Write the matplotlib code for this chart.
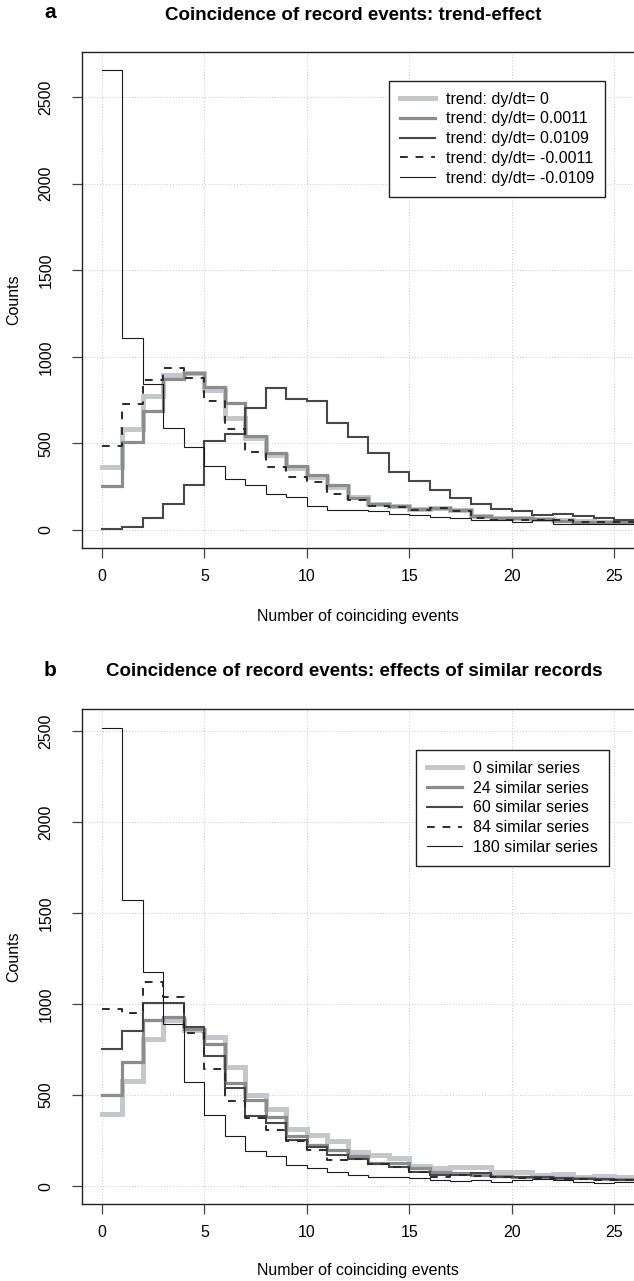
import numpy as np
import matplotlib
matplotlib.use("Agg")
import matplotlib.pyplot as plt

plt.rcParams['font.family'] = ['Liberation Sans', 'DejaVu Sans']

# number of coinciding events (bins)
n_events = list(range(27))

# panel a: trend effect
trend_labels = ["trend: dy/dt= 0", "trend: dy/dt= 0.0011", "trend: dy/dt= 0.0109",
                "trend: dy/dt= -0.0011", "trend: dy/dt= -0.0109"]
trend_0 = [361, 580, 775, 896, 906, 809, 645, 529, 433, 356, 305, 250, 188, 152, 140,
           122, 127, 116, 80, 69, 67, 62, 55, 49, 46, 45, 45]
trend_p0011 = [255, 510, 684, 871, 906, 823, 732, 543, 443, 369, 318, 262, 185, 150, 138,
               120, 125, 114, 80, 68, 66, 62, 54, 48, 45, 45, 45]
trend_p0109 = [4, 17, 66, 147, 257, 516, 553, 703, 819, 755, 742, 618, 537, 442, 335,
               280, 230, 185, 151, 118, 107, 88, 93, 80, 66, 58, 55]
trend_m0011 = [485, 728, 867, 935, 877, 742, 583, 452, 361, 307, 278, 210, 172, 140, 135,
               114, 124, 112, 70, 60, 58, 57, 55, 48, 46, 46, 46]
trend_m0109 = [2654, 1109, 844, 587, 477, 371, 294, 259, 205, 193, 138, 116, 117, 107, 93,
               85, 72, 71, 59, 58, 47, 56, 37, 35, 37, 37, 37]

# panel b: similar records
similar_labels = ["0 similar series", "24 similar series", "60 similar series",
                  "84 similar series", "180 similar series"]
sim_0 = [396, 580, 811, 912, 860, 820, 656, 500, 421, 311, 280, 249, 189, 170, 152,
         110, 97, 106, 103, 79, 75, 60, 66, 51, 55, 50, 50]
sim_24 = [500, 683, 912, 927, 866, 780, 568, 473, 380, 275, 225, 198, 167, 125, 125,
          97, 79, 73, 60, 55, 50, 48, 45, 42, 40, 38, 38]
sim_60 = [753, 853, 1004, 1004, 875, 716, 537, 385, 346, 253, 212, 170, 148, 119, 106,
          79, 60, 62, 70, 52, 48, 48, 42, 40, 38, 36, 36]
sim_84 = [971, 954, 1121, 1040, 843, 643, 469, 372, 308, 245, 198, 143, 148, 119, 106,
          79, 51, 60, 55, 50, 45, 45, 40, 38, 36, 35, 35]
sim_180 = [2520, 1571, 1178, 890, 573, 390, 275, 194, 167, 115, 97, 79, 60, 51, 51,
           42, 33, 30, 33, 24, 33, 38, 33, 24, 18, 24, 24]

# line styles shared by both panels (same order as legends)
styles = [
    dict(color='#c4c7cb', lw=3.6, ls='-'),
    dict(color='#8c8c8c', lw=2.3, ls='-'),
    dict(color='#474747', lw=1.5, ls='-'),
    dict(color='#2b2b2b', lw=1.4, ls=(0, (4, 4))),
    dict(color='#1a1a1a', lw=0.8, ls='-'),
]

W, H = 634, 1281
fig = plt.figure(figsize=(W / 100, H / 100), dpi=100)


def px_axes(left, top, right, bottom):
    return fig.add_axes([left / W, 1 - bottom / H, (right - left) / W, (bottom - top) / H])


def draw_panel(ax, series, labels, ymax, legend_anchor):
    for y, lab, st in zip(series, labels, styles):
        ax.plot(n_events, y, drawstyle='steps-post', label=lab, color=st['color'],
                lw=st['lw'], ls=st['ls'], solid_joinstyle='miter')
    pad = 0.04 * ymax
    ax.set_xlim(-1, 26)
    ax.set_ylim(-pad, ymax + pad)
    ax.set_xticks([0, 5, 10, 15, 20, 25])
    ax.set_yticks([0, 500, 1000, 1500, 2000, 2500])
    ax.grid(True, color='#c8c8c8', ls=(0, (1, 2)), lw=0.7)
    ax.set_axisbelow(True)
    for sp in ax.spines.values():
        sp.set_linewidth(1.0)
        sp.set_color('#222222')
    ax.tick_params(direction='out', length=7, width=0.9, color='#444444',
                   labelsize=11.5, pad=8)
    ax.tick_params(axis='y', labelrotation=90, pad=13)
    for lab in ax.get_yticklabels():
        lab.set_va('center')
    leg = ax.legend(loc='upper right', bbox_to_anchor=legend_anchor, borderaxespad=0,
                    fontsize=11.5, frameon=True, fancybox=False, edgecolor='#222222',
                    framealpha=1, handlelength=2.2, handletextpad=0.7,
                    labelspacing=0.3, borderpad=0.68)
    leg.get_frame().set_linewidth(1.0)


ax_a = px_axes(81.5, 52, 634.7, 548.3)
draw_panel(ax_a, [trend_0, trend_p0011, trend_p0109, trend_m0011, trend_m0109],
           trend_labels, 2654, (0.947, 0.942))

ax_b = px_axes(81.5, 709.3, 634.7, 1204.4)
draw_panel(ax_b, [sim_0, sim_24, sim_60, sim_84, sim_180],
           similar_labels, 2520, (0.953, 0.918))

# titles, panel letters and axis labels
fig.text(353 / W, 1 - 15 / H, "Coincidence of record events: trend-effect",
         ha='center', va='center', fontsize=13.5, fontweight='bold')
fig.text(50 / W, 1 - 13 / H, "a", ha='center', va='center', fontsize=15, fontweight='bold')
fig.text(354 / W, 1 - 672 / H, "Coincidence of record events: effects of similar records",
         ha='center', va='center', fontsize=13.5, fontweight='bold')
fig.text(50 / W, 1 - 670 / H, "b", ha='center', va='center', fontsize=15, fontweight='bold')

for yc, xl in [(300, 616), (957, 1271)]:
    fig.text(14 / W, 1 - yc / H, "Counts", rotation=90, ha='center', va='center', fontsize=11.5)
    fig.text(358 / W, 1 - xl / H, "Number of coinciding events", ha='center', va='center',
             fontsize=11.5)

fig.savefig("out.png", dpi=100)
